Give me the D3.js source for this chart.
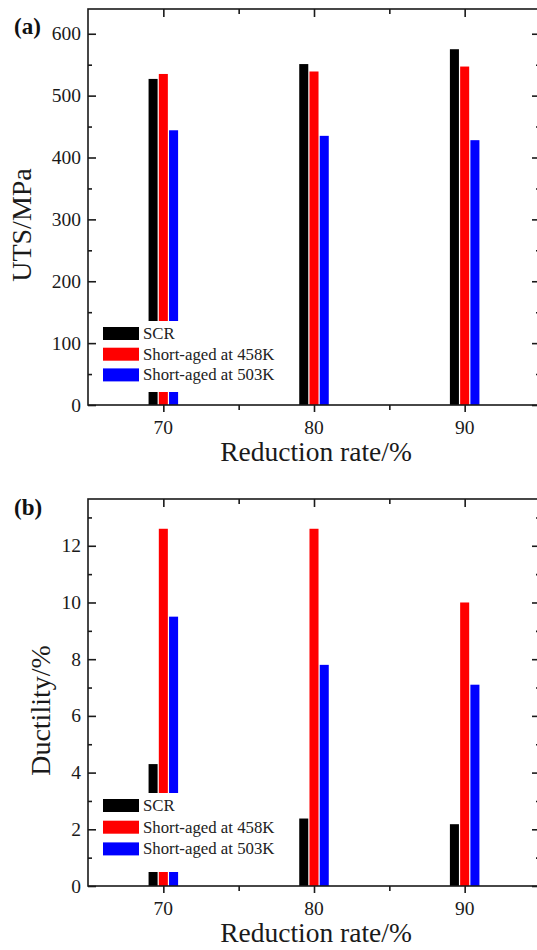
<!DOCTYPE html>
<html lang="en">
<head>
    <meta charset="UTF-8">
    <title>UTS and ductility vs reduction rate</title>
    <script src="https://d3js.org/d3.v7.min.js"></script>
    <style>
        body { margin: 0; background: #fff; }
        svg { display: block; font-family: "Liberation Serif", "Times New Roman", serif; }
        .frame { stroke: #1a1a1a; stroke-width: 1.6; fill: none; }
    </style>
</head>
<body>
<svg id="chart" width="537" height="950"></svg>
<script>
    // data
    const rates = [70, 80, 90];
    const seriesNames = ["SCR", "Short-aged at 458K", "Short-aged at 503K"];
    const seriesColors = ["#000000", "#ff0000", "#0000ff"];

    const utsSCR = [527, 551, 575];
    const uts458 = [535, 539, 547];
    const uts503 = [444, 435, 428];

    const ductSCR = [4.3, 2.38, 2.18];
    const duct458 = [12.6, 12.6, 10.0];
    const duct503 = [9.5, 7.8, 7.1];

    const utsTicks = [0, 100, 200, 300, 400, 500, 600];
    const ductTicks = [0, 2, 4, 6, 8, 10, 12];
    const xTicks = [70, 80, 90];

    // layout of the two panels
    const panels = [
        { tag: "(a)", ylabel: "UTS/MPa", values: [utsSCR, uts458, uts503], ticks: utsTicks, minorStep: 50,
          yMax: 640, top: 9, bottom: 405, tagY: 34, ylabX: 31, legTop: 327, legGap: 20.7, legBg: [321, 392] },
        { tag: "(b)", ylabel: "Ductility/%", values: [ductSCR, duct458, duct503], ticks: ductTicks, minorStep: 1,
          yMax: 13.65, top: 499, bottom: 886, tagY: 515, ylabX: 50, legTop: 799, legGap: 21.7, legBg: [793, 872] }
    ];

    const svg = d3.select("#chart");
    const left = 88, right = 540;
    const x = d3.scaleLinear().domain([65, 95]).range([left, right]);
    const barW = 0.6, barStep = 0.68;

    panels.forEach(p => {
        const y = d3.scaleLinear().domain([0, p.yMax]).range([p.bottom, p.top]);
        const g = svg.append("g");

        // bars
        p.values.forEach((vals, si) => {
            g.selectAll(null)
                .data(vals.map((v, i) => ({ rate: rates[i], v })))
                .enter().append("rect")
                .attr("x", d => x(d.rate + (si - 1) * barStep - barW / 2))
                .attr("width", x(65 + barW) - x(65))
                .attr("y", d => y(d.v))
                .attr("height", d => y(0) - y(d.v))
                .attr("fill", seriesColors[si]);
        });

        // legend with white background over the bars
        g.append("rect")
            .attr("x", 96).attr("width", 185)
            .attr("y", p.legBg[0]).attr("height", p.legBg[1] - p.legBg[0])
            .attr("fill", "#fff");
        seriesNames.forEach((name, i) => {
            const yy = p.legTop + i * p.legGap;
            g.append("rect").attr("x", 103).attr("y", yy).attr("width", 36).attr("height", 13)
                .attr("fill", seriesColors[i]);
            g.append("text").attr("x", 143).attr("y", yy + 12)
                .attr("font-size", 16.8).attr("fill", "#222").text(name);
        });

        // axes: left ticks inside, bottom ticks outside, mirrored top/right inside
        const minor = d3.range(0, p.yMax, p.minorStep).filter(v => !p.ticks.includes(v));
        const xMinor = [75, 85];

        g.append("g").attr("transform", `translate(${left},0)`)
            .call(d3.axisRight(y).tickValues(p.ticks).tickSize(8).tickFormat(""))
            .call(a => a.select(".domain").remove());
        g.append("g").attr("transform", `translate(${left},0)`)
            .call(d3.axisRight(y).tickValues(minor).tickSize(4).tickFormat(""))
            .call(a => a.select(".domain").remove());
        g.append("g").attr("transform", `translate(${right},0)`)
            .call(d3.axisLeft(y).tickValues(p.ticks).tickSize(8).tickFormat(""))
            .call(a => a.select(".domain").remove());
        g.append("g").attr("transform", `translate(${right},0)`)
            .call(d3.axisLeft(y).tickValues(minor).tickSize(4).tickFormat(""))
            .call(a => a.select(".domain").remove());

        g.append("g").attr("transform", `translate(0,${p.bottom})`)
            .call(d3.axisBottom(x).tickValues(xTicks).tickSize(7).tickFormat(""))
            .call(a => a.select(".domain").remove());
        g.append("g").attr("transform", `translate(0,${p.bottom})`)
            .call(d3.axisBottom(x).tickValues(xMinor).tickSize(5).tickFormat(""))
            .call(a => a.select(".domain").remove());
        g.append("g").attr("transform", `translate(0,${p.top})`)
            .call(d3.axisBottom(x).tickValues(xTicks).tickSize(8).tickFormat(""))
            .call(a => a.select(".domain").remove());
        g.append("g").attr("transform", `translate(0,${p.top})`)
            .call(d3.axisBottom(x).tickValues(xMinor).tickSize(5).tickFormat(""))
            .call(a => a.select(".domain").remove());
        g.selectAll(".tick line").attr("stroke", "#1a1a1a").attr("stroke-width", 1.6);

        // frame
        g.append("rect").attr("class", "frame")
            .attr("x", left).attr("y", p.top)
            .attr("width", right - left).attr("height", p.bottom - p.top);

        // tick labels
        g.selectAll(null).data(p.ticks).enter().append("text")
            .attr("x", 81).attr("y", d => y(d) + 6.5)
            .attr("text-anchor", "end").attr("font-size", 19.5).attr("fill", "#1a1a1a")
            .text(d => d);
        g.selectAll(null).data(xTicks).enter().append("text")
            .attr("x", d => x(d)).attr("y", p.bottom + 29)
            .attr("text-anchor", "middle").attr("font-size", 19.5).attr("fill", "#1a1a1a")
            .text(d => d);

        // titles
        g.append("text").attr("x", 316).attr("y", p.bottom + 56)
            .attr("text-anchor", "middle").attr("font-size", 27.5).attr("fill", "#1a1a1a")
            .text("Reduction rate/%");
        g.append("text")
            .attr("transform", `translate(${p.ylabX},${(p.top + p.bottom) / 2 + 18}) rotate(-90)`)
            .attr("text-anchor", "middle").attr("font-size", 28).attr("fill", "#1a1a1a")
            .text(p.ylabel);
        g.append("text").attr("x", 14).attr("y", p.tagY)
            .attr("font-size", 23).attr("font-weight", "bold").attr("fill", "#111")
            .text(p.tag);
    });
</script>
</body>
</html>
